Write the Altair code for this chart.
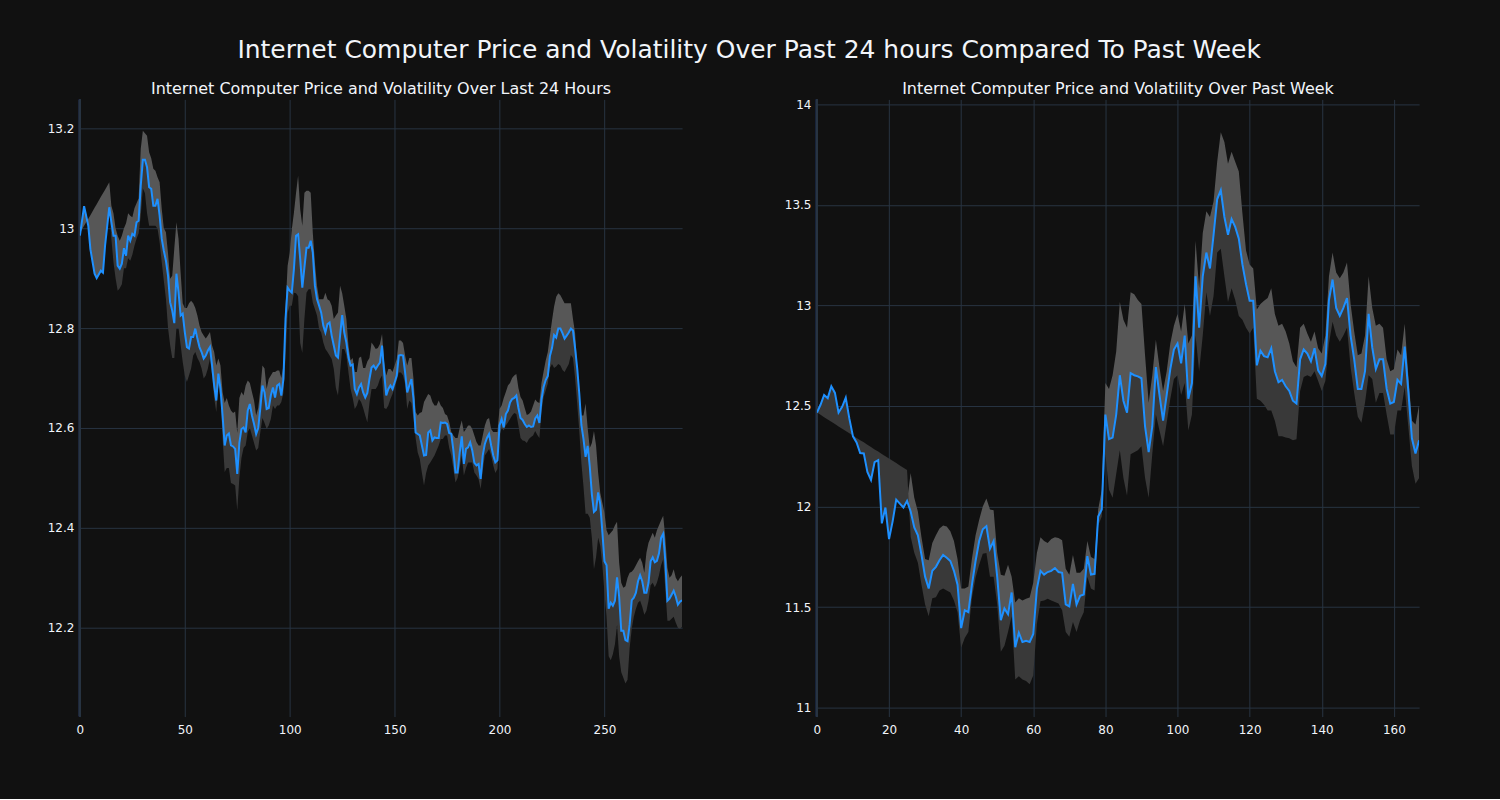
import altair as alt
import pandas as pd

# ---------------- Last 24 hours (5-minute steps) ----------------
day_x = [0, 2, 4, 5, 7, 8, 10, 11, 12] + list(range(14, 288))
day_price = [
    12.985, 13.044, 13.005, 12.958, 12.909, 12.900, 12.915, 12.911, 12.965,
    13.042, 13.012, 12.985, 12.985, 12.925, 12.919, 12.929, 12.960, 12.945, 12.985,
    12.975, 12.989, 12.985, 13.012, 13.015, 13.085, 13.137, 13.137, 13.122, 13.082,
    13.079, 13.045, 13.045, 13.059, 13.025, 12.979, 12.955, 12.935, 12.905, 12.852,
    12.835, 12.810, 12.909, 12.872, 12.825, 12.829, 12.792, 12.762, 12.759, 12.782,
    12.782, 12.799, 12.779, 12.762, 12.752, 12.739, 12.745, 12.755, 12.762, 12.725,
    12.685, 12.655, 12.709, 12.679, 12.625, 12.565, 12.585, 12.589, 12.565, 12.563,
    12.558, 12.508, 12.570, 12.598, 12.601, 12.591, 12.635, 12.648, 12.625, 12.608,
    12.588, 12.600, 12.640, 12.685, 12.671, 12.638, 12.640, 12.665, 12.681, 12.661,
    12.685, 12.688, 12.665, 12.698, 12.818, 12.881, 12.875, 12.871, 12.918, 12.985,
    12.988, 12.938, 12.881, 12.921, 12.961, 12.961, 12.975, 12.951, 12.885, 12.858,
    12.845, 12.831, 12.805, 12.791, 12.808, 12.811, 12.785, 12.765, 12.745, 12.741,
    12.785, 12.826, 12.791, 12.771, 12.741, 12.725, 12.727, 12.678, 12.668, 12.681,
    12.688, 12.671, 12.661, 12.670, 12.698, 12.721, 12.725, 12.718, 12.725, 12.731,
    12.765, 12.711, 12.665, 12.678, 12.685, 12.678, 12.691, 12.705, 12.745, 12.746,
    12.745, 12.711, 12.671, 12.685, 12.698, 12.658, 12.591, 12.588, 12.585, 12.565,
    12.545, 12.546, 12.591, 12.595, 12.575, 12.581, 12.580, 12.580, 12.611, 12.610,
    12.611, 12.608, 12.590, 12.588, 12.555, 12.511, 12.511, 12.550, 12.583, 12.528,
    12.558, 12.561, 12.571, 12.555, 12.530, 12.525, 12.528, 12.498, 12.545, 12.568,
    12.580, 12.588, 12.565, 12.545, 12.531, 12.535, 12.605, 12.618, 12.601, 12.628,
    12.635, 12.651, 12.658, 12.660, 12.665, 12.640, 12.620, 12.616, 12.608, 12.602,
    12.605, 12.602, 12.603, 12.619, 12.625, 12.610, 12.657, 12.682, 12.696, 12.704,
    12.744, 12.760, 12.786, 12.781, 12.799, 12.799, 12.790, 12.779, 12.785, 12.791,
    12.799, 12.795, 12.760, 12.720, 12.669, 12.606, 12.578, 12.542, 12.564, 12.523,
    12.467, 12.432, 12.436, 12.471, 12.447, 12.392, 12.333, 12.325, 12.238, 12.250,
    12.244, 12.254, 12.301, 12.262, 12.194, 12.194, 12.175, 12.173, 12.206, 12.255,
    12.260, 12.270, 12.293, 12.305, 12.293, 12.270, 12.270, 12.290, 12.333, 12.341,
    12.331, 12.334, 12.349, 12.380, 12.388, 12.333, 12.254, 12.258, 12.266, 12.274,
    12.262, 12.246, 12.252, 12.255,
]
day_upper = [
    12.990, 13.005, 13.019, 13.026, 13.041, 13.048, 13.063, 13.070, 13.077,
    13.092, 13.045, 13.030, 13.000, 12.985, 12.975, 12.985, 13.000, 13.010, 13.030,
    13.025, 13.022, 13.040, 13.050, 13.060, 13.159, 13.195, 13.190, 13.185, 13.152,
    13.140, 13.119, 13.115, 13.102, 13.092, 13.039, 13.000, 12.992, 12.950, 12.899,
    12.905, 12.960, 13.012, 12.979, 12.912, 12.850, 12.840, 12.840, 12.850, 12.855,
    12.850, 12.840, 12.825, 12.805, 12.792, 12.785, 12.779, 12.785, 12.792, 12.765,
    12.752, 12.725, 12.739, 12.725, 12.672, 12.650, 12.660, 12.645, 12.635, 12.630,
    12.633, 12.590, 12.660, 12.672, 12.665, 12.685, 12.695, 12.690, 12.672, 12.655,
    12.625, 12.640, 12.678, 12.725, 12.719, 12.678, 12.698, 12.705, 12.712, 12.712,
    12.715, 12.715, 12.700, 12.725, 12.840, 12.925, 12.951, 12.998, 13.031, 13.070,
    13.105, 13.038, 13.005, 13.071, 13.075, 13.075, 13.071, 12.991, 12.931, 12.885,
    12.858, 12.858, 12.858, 12.871, 12.858, 12.855, 12.845, 12.818, 12.825, 12.831,
    12.885, 12.870, 12.845, 12.818, 12.765, 12.735, 12.740, 12.712, 12.712, 12.740,
    12.743, 12.720, 12.720, 12.733, 12.740, 12.771, 12.765, 12.758, 12.760, 12.768,
    12.788, 12.732, 12.705, 12.718, 12.718, 12.712, 12.725, 12.738, 12.775, 12.775,
    12.770, 12.745, 12.725, 12.740, 12.740, 12.698, 12.632, 12.625, 12.630, 12.632,
    12.652, 12.660, 12.668, 12.665, 12.652, 12.645, 12.645, 12.655, 12.645, 12.640,
    12.628, 12.625, 12.612, 12.592, 12.585, 12.580, 12.580, 12.600, 12.615, 12.592,
    12.598, 12.605, 12.605, 12.598, 12.585, 12.572, 12.565, 12.565, 12.585, 12.605,
    12.617, 12.620, 12.598, 12.592, 12.592, 12.592, 12.638, 12.645, 12.660, 12.672,
    12.685, 12.690, 12.700, 12.705, 12.708, 12.680, 12.662, 12.655, 12.640, 12.626,
    12.628, 12.633, 12.645, 12.657, 12.652, 12.650, 12.690, 12.713, 12.735, 12.752,
    12.784, 12.815, 12.843, 12.863, 12.870, 12.866, 12.858, 12.850, 12.850, 12.850,
    12.850, 12.818, 12.790, 12.725, 12.675, 12.625, 12.625, 12.649, 12.600, 12.560,
    12.570, 12.594, 12.565, 12.510, 12.470, 12.450, 12.430, 12.395, 12.385, 12.390,
    12.395, 12.405, 12.412, 12.330, 12.290, 12.280, 12.283, 12.300, 12.310, 12.312,
    12.317, 12.325, 12.333, 12.340, 12.330, 12.310, 12.350, 12.370, 12.380, 12.390,
    12.380, 12.395, 12.405, 12.415, 12.424, 12.380, 12.320, 12.300, 12.305, 12.317,
    12.300, 12.293, 12.300, 12.305,
]
day_lower = [
    12.985, 13.044, 13.005, 12.958, 12.909, 12.900, 12.915, 12.911, 12.965,
    13.042, 12.979, 12.932, 12.900, 12.875, 12.880, 12.888, 12.920, 12.920, 12.940,
    12.935, 12.947, 12.965, 12.979, 12.990, 13.025, 13.080, 13.070, 13.030, 13.005,
    13.005, 13.005, 13.005, 12.999, 12.972, 12.932, 12.895, 12.859, 12.800, 12.766,
    12.740, 12.740, 12.800, 12.800, 12.766, 12.732, 12.705, 12.692, 12.705, 12.719,
    12.745, 12.752, 12.740, 12.732, 12.719, 12.699, 12.705, 12.719, 12.739, 12.705,
    12.660, 12.632, 12.685, 12.660, 12.580, 12.512, 12.520, 12.520, 12.490, 12.488,
    12.485, 12.435, 12.500, 12.540, 12.560, 12.565, 12.592, 12.600, 12.585, 12.570,
    12.555, 12.560, 12.592, 12.620, 12.610, 12.598, 12.605, 12.618, 12.645, 12.638,
    12.645, 12.645, 12.652, 12.670, 12.740, 12.830, 12.845, 12.845, 12.871, 12.870,
    12.864, 12.770, 12.750, 12.818, 12.871, 12.878, 12.878, 12.851, 12.838, 12.825,
    12.798, 12.791, 12.771, 12.758, 12.752, 12.745, 12.738, 12.718, 12.680, 12.665,
    12.711, 12.758, 12.758, 12.745, 12.711, 12.678, 12.660, 12.638, 12.645, 12.658,
    12.652, 12.640, 12.625, 12.611, 12.650, 12.678, 12.678, 12.678, 12.685, 12.698,
    12.705, 12.640, 12.638, 12.645, 12.658, 12.668, 12.680, 12.695, 12.711, 12.711,
    12.705, 12.688, 12.638, 12.655, 12.650, 12.618, 12.580, 12.551, 12.538, 12.510,
    12.485, 12.510, 12.525, 12.531, 12.538, 12.545, 12.555, 12.565, 12.578, 12.578,
    12.585, 12.585, 12.560, 12.545, 12.518, 12.491, 12.500, 12.520, 12.545, 12.505,
    12.520, 12.531, 12.531, 12.531, 12.511, 12.505, 12.498, 12.478, 12.515, 12.545,
    12.551, 12.558, 12.545, 12.525, 12.510, 12.518, 12.585, 12.600, 12.595, 12.605,
    12.611, 12.618, 12.625, 12.630, 12.628, 12.605, 12.580, 12.575, 12.574, 12.570,
    12.578, 12.582, 12.585, 12.594, 12.586, 12.580, 12.633, 12.662, 12.675, 12.689,
    12.720, 12.728, 12.720, 12.723, 12.728, 12.725, 12.716, 12.712, 12.720, 12.728,
    12.746, 12.740, 12.700, 12.649, 12.594, 12.530, 12.483, 12.428, 12.428, 12.420,
    12.380, 12.317, 12.341, 12.380, 12.364, 12.325, 12.270, 12.222, 12.143, 12.135,
    12.147, 12.167, 12.206, 12.143, 12.111, 12.100, 12.088, 12.096, 12.159, 12.198,
    12.222, 12.238, 12.250, 12.254, 12.242, 12.226, 12.234, 12.254, 12.285, 12.290,
    12.281, 12.290, 12.305, 12.325, 12.337, 12.277, 12.214, 12.214, 12.218, 12.222,
    12.210, 12.200, 12.198, 12.202,
]

# ---------------- Past week (hourly steps) ----------------
week_x = list(range(0, 168))
week_price = [
    12.467, 12.506, 12.555, 12.539, 12.598, 12.565, 12.467, 12.496, 12.541, 12.437,
    12.349, 12.319, 12.266, 12.264, 12.172, 12.132, 12.221, 12.231, 11.916, 11.995,
    11.838, 11.926, 12.034, 12.014, 11.995, 12.028, 11.975, 11.896, 11.857, 11.759,
    11.651, 11.592, 11.680, 11.700, 11.733, 11.759, 11.745, 11.729, 11.680, 11.611,
    11.395, 11.484, 11.474, 11.611, 11.729, 11.828, 11.887, 11.902, 11.790, 11.828,
    11.650, 11.434, 11.493, 11.464, 11.572, 11.300, 11.372, 11.326, 11.332, 11.326,
    11.366, 11.590, 11.680, 11.661, 11.674, 11.680, 11.694, 11.674, 11.670, 11.513,
    11.503, 11.615, 11.513, 11.556, 11.562, 11.753, 11.661, 11.665, 11.950, 11.985,
    12.457, 12.335, 12.343, 12.457, 12.653, 12.526, 12.467, 12.663, 12.653, 12.647,
    12.638, 12.398, 12.270, 12.398, 12.693, 12.555, 12.427, 12.555, 12.683, 12.781,
    12.811, 12.712, 12.850, 12.536, 12.614, 13.145, 12.889, 13.145, 13.263, 13.184,
    13.351, 13.528, 13.573, 13.440, 13.351, 13.430, 13.391, 13.332, 13.204, 13.106,
    13.023, 13.023, 12.702, 12.775, 12.748, 12.742, 12.787, 12.673, 12.618, 12.630,
    12.598, 12.575, 12.526, 12.512, 12.732, 12.781, 12.761, 12.722, 12.787, 12.677,
    12.649, 12.708, 13.027, 13.129, 12.988, 12.948, 12.988, 13.037, 12.850, 12.732,
    12.585, 12.585, 12.673, 12.958, 12.791, 12.683, 12.732, 12.732, 12.585, 12.512,
    12.520, 12.630, 12.610, 12.795, 12.575, 12.339, 12.264, 12.329,
]
week_upper = [
    12.467, 12.506, 12.555, 12.539, 12.598, 12.565, 12.467, 12.496, 12.541, 12.437,
    12.349, 12.319, 12.266, 12.264, 12.172, 12.132, 12.221, 12.231, 11.916, 11.995,
    11.838, 11.926, 12.034, 12.014, 11.995, 12.028, 12.166, 12.044, 11.975, 11.847,
    11.739, 11.733, 11.818, 11.857, 11.890, 11.906, 11.900, 11.877, 11.828, 11.739,
    11.592, 11.592, 11.602, 11.741, 11.857, 11.934, 12.000, 12.040, 11.985, 11.981,
    11.769, 11.661, 11.655, 11.710, 11.651, 11.523, 11.543, 11.533, 11.541, 11.547,
    11.621, 11.769, 11.847, 11.828, 11.818, 11.838, 11.847, 11.843, 11.832, 11.690,
    11.661, 11.759, 11.670, 11.670, 11.690, 11.828, 11.749, 11.739, 11.985, 12.083,
    12.614, 12.585, 12.653, 12.771, 13.017, 12.929, 12.889, 13.066, 13.056, 13.027,
    13.007, 12.752, 12.516, 12.653, 12.830, 12.693, 12.575, 12.673, 12.811, 12.899,
    12.958, 12.870, 13.007, 12.811, 12.850, 13.322, 13.086, 13.361, 13.469, 13.440,
    13.518, 13.715, 13.862, 13.813, 13.705, 13.764, 13.715, 13.666, 13.459, 13.273,
    13.204, 13.184, 12.980, 13.007, 13.023, 13.037, 13.086, 12.958, 12.899, 12.909,
    12.870, 12.811, 12.722, 12.693, 12.889, 12.909, 12.860, 12.820, 12.870, 12.787,
    12.761, 12.850, 13.145, 13.263, 13.164, 13.135, 13.164, 13.214, 13.007, 12.870,
    12.752, 12.761, 12.850, 13.145, 12.988, 12.899, 12.909, 12.889, 12.732, 12.673,
    12.683, 12.781, 12.752, 12.909, 12.653, 12.427, 12.408, 12.506,
]
week_lower = [
    12.467, 12.456, 12.444, 12.433, 12.421, 12.410, 12.398, 12.387, 12.376, 12.364,
    12.353, 12.341, 12.330, 12.319, 12.307, 12.296, 12.284, 12.273, 12.261, 12.250,
    12.239, 12.227, 12.216, 12.204, 12.193, 12.182, 11.850, 11.770, 11.720, 11.611,
    11.513, 11.454, 11.543, 11.549, 11.582, 11.592, 11.582, 11.572, 11.533, 11.474,
    11.297, 11.346, 11.376, 11.547, 11.645, 11.710, 11.765, 11.769, 11.651, 11.651,
    11.513, 11.277, 11.307, 11.376, 11.454, 11.140, 11.155, 11.140, 11.132, 11.116,
    11.159, 11.415, 11.529, 11.533, 11.541, 11.533, 11.525, 11.517, 11.484, 11.376,
    11.352, 11.425, 11.376, 11.435, 11.474, 11.651, 11.592, 11.582, 11.906, 11.950,
    12.260, 12.083, 12.044, 12.162, 12.280, 12.142, 12.054, 12.260, 12.270, 12.280,
    12.300, 12.142, 12.044, 12.260, 12.457, 12.378, 12.300, 12.417, 12.535, 12.634,
    12.653, 12.555, 12.614, 12.378, 12.457, 12.850, 12.673, 12.850, 13.066, 12.948,
    13.047, 13.263, 13.282, 13.145, 13.017, 13.086, 13.027, 12.948, 12.929, 12.889,
    12.860, 12.889, 12.536, 12.526, 12.506, 12.477, 12.477, 12.427, 12.349, 12.349,
    12.343, 12.339, 12.329, 12.335, 12.575, 12.644, 12.653, 12.644, 12.673, 12.624,
    12.575, 12.624, 12.811, 12.919, 12.850, 12.820, 12.850, 12.889, 12.693, 12.565,
    12.447, 12.417, 12.516, 12.653, 12.634, 12.516, 12.565, 12.565, 12.457, 12.358,
    12.358, 12.477, 12.477, 12.594, 12.398, 12.201, 12.113, 12.142,
]

day_ticks_x = [0, 50, 100, 150, 200, 250]
day_ticks_y = [12.2, 12.4, 12.6, 12.8, 13.0, 13.2]
week_ticks_x = [0, 20, 40, 60, 80, 100, 120, 140, 160]
week_ticks_y = [11.0, 11.5, 12.0, 12.5, 13.0, 13.5, 14.0]

main_title = "Internet Computer Price and Volatility Over Past 24 hours Compared To Past Week"
day_title = "Internet Computer Price and Volatility Over Last 24 Hours"
week_title = "Internet Computer Price and Volatility Over Past Week"

FONT = "DejaVu Sans"
TXT = "#f2f5fa"
GRID = "#283442"
LIGHT = "#575757"
DARK = "#393939"
BLUE = "#1e90ff"


def panel(xs, price, upper, lower, xdom, ydom, xt, yt, title):
    df = pd.DataFrame({"x": xs, "price": price, "upper": upper, "lower": lower})
    xenc = alt.X("x:Q", scale=alt.Scale(domain=xdom, nice=False, zero=False),
                 axis=alt.Axis(values=xt, title=None, format="d", labelPadding=8,
                               labelFlush=False))
    yscale = alt.Scale(domain=ydom, nice=False, zero=False)
    yaxis = alt.Axis(values=yt, title=None, format=".1~f", labelFlush=False)
    base = alt.Chart(df)
    hi = base.mark_area(color=LIGHT, clip=True).encode(
        x=xenc, y=alt.Y("price:Q", scale=yscale, axis=yaxis), y2="upper:Q")
    lo = base.mark_area(color=DARK, clip=True).encode(
        x=xenc, y=alt.Y("lower:Q", scale=yscale, axis=yaxis), y2="price:Q")
    zero = base.mark_rule(color=GRID, strokeWidth=2).encode(x=alt.datum(0))
    line = base.mark_line(color=BLUE, strokeWidth=2, clip=True).encode(
        x=xenc, y=alt.Y("price:Q", scale=yscale, axis=yaxis))
    return alt.layer(zero, hi, lo, line).properties(
        width=603, height=618,
        title=alt.TitleParams(title, fontSize=16, font=FONT, color=TXT,
                              fontWeight="normal", anchor="middle", frame="group", offset=1))


left = panel(day_x, day_price, day_upper, day_lower, [0, 287], [12.022, 13.258],
             day_ticks_x, day_ticks_y, day_title)
right = panel(week_x, week_price, week_upper, week_lower, [0, 167], [10.955, 14.025],
              week_ticks_x, week_ticks_y, week_title)

chart = alt.hconcat(left, right, spacing=102).properties(
    title=alt.TitleParams(main_title, fontSize=25, font=FONT, color=TXT,
                          fontWeight="normal", anchor="middle", offset=18, dx=16)
).configure(
    background="#111111",
    padding={"left": 47, "top": 38, "right": 81, "bottom": 63},
).configure_view(stroke=None).configure_axis(
    grid=True, gridColor=GRID, gridWidth=1, domain=False, ticks=False,
    labelColor=TXT, labelFont=FONT, labelFontSize=12, labelPadding=6,
)

chart.save("out.html", embed_options={"renderer": "svg", "actions": False})
